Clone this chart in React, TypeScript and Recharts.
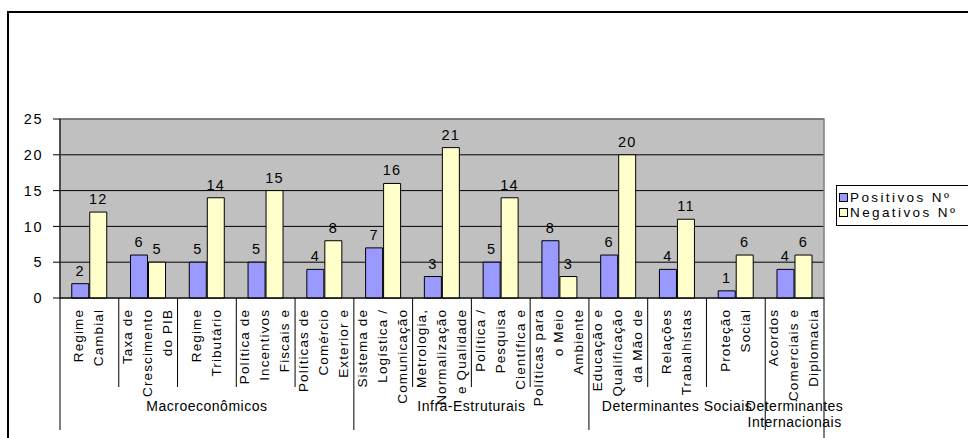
import React from 'react';
import {
  BarChart,
  Bar,
  XAxis,
  YAxis,
  CartesianGrid,
  LabelList,
  ReferenceArea,
} from 'recharts';

// categories (line breaks follow the wrapped axis labels)
const categories = [
  'Regime\nCambial',
  'Taxa de\nCrescimento\ndo PIB',
  'Regime\nTributário',
  'Política de\nIncentivos\nFiscais e',
  'Políticas de\nComércio\nExterior e',
  'Sistema de\nLogística /\nComunicação',
  'Metrologia,\nNormalização\ne Qualidade',
  'Política /\nPesquisa\nCientífica e',
  'Políticas para\no Meio\nAmbiente',
  'Educação e\nQualificação\nda Mão de',
  'Relações\nTrabalhistas',
  'Proteção\nSocial',
  'Acordos\nComerciais e\nDiplomacia',
];

const positivos = [2, 6, 5, 5, 4, 7, 3, 5, 8, 6, 4, 1, 4];
const negativos = [12, 5, 14, 15, 8, 16, 21, 14, 3, 20, 11, 6, 6];

const groupNames = ['Macroeconômicos', 'Infra-Estruturais', 'Determinantes Sociais', 'Determinantes\nInternacionais'];
const groupSizes = [5, 4, 3, 1];

const yTicks = [0, 5, 10, 15, 20, 25];

const series = [
  { key: 'pos', label: 'Positivos Nº', color: '#9999FF' },
  { key: 'neg', label: 'Negativos Nº', color: '#FFFFCC' },
];

const data = categories.map((name, i) => ({
  name,
  pos: positivos[i],
  neg: negativos[i],
}));

const FONT = "'Liberation Sans', Arial, sans-serif";
const W = 968;
const H = 438;
const M = { top: 119, right: 144, bottom: 0, left: 0 };
const Y_W = 60;
const X_H = 140;
const BAND = (W - M.left - M.right - Y_W) / categories.length;

// index of first category of each group
const groupStarts: number[] = [];
groupSizes.reduce((acc, n) => {
  groupStarts.push(acc);
  return acc + n;
}, 0);

const CategoryTick = (props: any) => {
  const { x, y, payload, index } = props;
  const lines: string[] = String(payload.value).split('\n');
  const gi = groupStarts.indexOf(index);
  const left = x - BAND / 2;
  const isLast = index === categories.length - 1;
  return (
    <g>
      {lines.map((ln, i) => {
        const lx = x - 1 + (i - (lines.length - 1) / 2) * 20;
        return (
          <text
            key={i}
            transform={`translate(${lx},${y + 11}) rotate(-90)`}
            textAnchor="end"
            dy="0.35em"
            fontSize={13.5}
            letterSpacing={1.1}
            fontFamily={FONT}
            fill="#000"
          >
            {ln}
          </text>
        );
      })}
      <line x1={left} x2={left} y1={y} y2={y + (gi >= 0 ? 132 : 89)} stroke="#000" strokeWidth={1} />
      {isLast && <line x1={x + BAND / 2} x2={x + BAND / 2} y1={y} y2={y + 140} stroke="#000" strokeWidth={1} />}
      {gi >= 0 &&
        groupNames[gi].split('\n').map((g, k) => (
          <text
            key={`g${k}`}
            x={left + (groupSizes[gi] * BAND) / 2}
            y={y + 113 + k * 16}
            textAnchor="middle"
            fontSize={14}
            letterSpacing={0.5}
            fontFamily={FONT}
            fill="#000"
          >
            {g}
          </text>
        ))}
    </g>
  );
};

const LegendBox = () => (
  <div
    style={{
      position: 'absolute',
      left: 836,
      top: 185,
      border: '1px solid #000',
      background: '#fff',
      padding: '4px 0 5px 2px',
      width: 200,
      fontFamily: FONT,
      fontSize: 13.5,
      letterSpacing: 2.4,
      color: '#000',
    }}
  >
    {series.map((it) => (
      <div key={it.key} style={{ display: 'flex', alignItems: 'center', height: 15, whiteSpace: 'nowrap' }}>
        <span
          style={{
            display: 'inline-block',
            width: 7,
            height: 7,
            background: it.color,
            border: '1px solid #000',
            marginRight: 2,
          }}
        />
        {it.label}
      </div>
    ))}
  </div>
);

export default function App() {
  return (
    <div style={{ position: 'absolute', left: 0, top: 0, width: W, height: H, overflow: 'hidden', background: '#fff' }}>
      <div
        style={{
          position: 'absolute',
          left: 7,
          top: 11,
          width: W,
          height: H,
          borderLeft: '2px solid #000',
          borderTop: '2px solid #000',
        }}
      />
      <BarChart
        width={W}
        height={H}
        data={data}
        margin={M}
        barCategoryGap="20%"
        barGap={1}
        style={{ position: 'absolute', left: 0, top: 0 }}
      >
        <CartesianGrid vertical={false} stroke="#000" fill="#C0C0C0" fillOpacity={1} />
        <ReferenceArea y1={0} y2={25} fill="none" stroke="#808080" strokeWidth={1.5} />
        <XAxis
          dataKey="name"
          interval={0}
          height={X_H}
          tickLine={false}
          tickSize={0}
          tickMargin={0}
          axisLine={{ stroke: '#000', strokeWidth: 1 }}
          tick={<CategoryTick />}
        />
        <YAxis
          width={Y_W}
          domain={[0, 25]}
          ticks={yTicks}
          interval={0}
          tickSize={7}
          tickMargin={10}
          axisLine={{ stroke: '#000' }}
          tickLine={{ stroke: '#000' }}
          tick={{ fontSize: 14.5, fill: '#000', fontFamily: FONT, letterSpacing: 1.5 }}
        />
        {series.map((s) => (
          <Bar
            key={s.key}
            dataKey={s.key}
            name={s.label}
            fill={s.color}
            stroke="#000"
            strokeWidth={1}
            isAnimationActive={false}
          >
            <LabelList dataKey={s.key} position="top" offset={8} fill="#000" fontSize={14.5} fontFamily={FONT} letterSpacing={1.2} />
          </Bar>
        ))}
      </BarChart>
      <LegendBox />
    </div>
  );
}
